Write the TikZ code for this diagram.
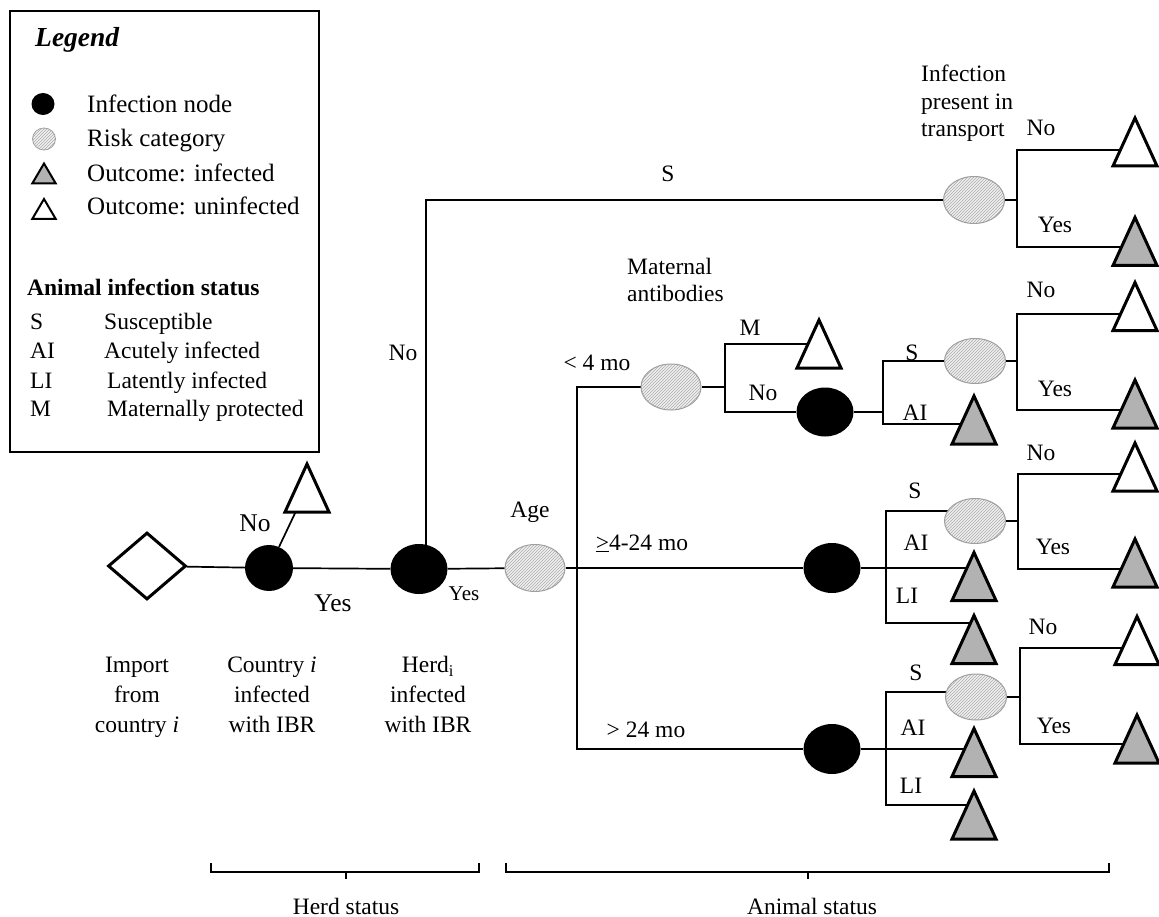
\documentclass[tikz,border=0pt]{standalone}
\usepackage{fontspec}
\setmainfont{Liberation Serif}
\usetikzlibrary{shapes.geometric,patterns}
\pgfdeclarelayer{bg}
\pgfsetlayers{bg,main}
\tikzset{
  conn/.style={line width=1.7pt},
  infn/.style={ellipse, fill=black, inner sep=0pt, minimum width=57pt, minimum height=50pt},
  risk/.style={ellipse, draw=gray!75, line width=1pt, preaction={fill=gray!12}, pattern=north east lines, pattern color=gray!65, minimum width=61pt, minimum height=46pt, inner sep=0pt},
  tri/.style n args={4}{minimum width=#1, minimum height=#2, inner sep=0pt, outer sep=0pt,
    append after command={\pgfextra{\draw[line width=#3, line join=miter, fill=#4] (\tikzlastnode.south west) -- (\tikzlastnode.south east) -- (\tikzlastnode.north) -- cycle;}}},
  triI/.style={tri={44pt}{48pt}{3pt}{black!30}},
  triU/.style={tri={44pt}{48pt}{3pt}{white}},
  triIs/.style={tri={23.5pt}{20pt}{2pt}{black!30}},
  triUs/.style={tri={23.5pt}{20pt}{2pt}{white}},
  lb/.style={inner sep=0pt, anchor=base, font=\fontsize{23.5}{28}\selectfont},
  lbw/.style={lb, anchor=base west},
  multi/.style={inner sep=0pt, font=\fontsize{23.5}{#1}\selectfont},
}
\begin{document}
\begin{tikzpicture}[x=1pt,y=-1pt]
\useasboundingbox (0,0) rectangle (1159,917);

% Legend
\node[draw, line width=1.4pt, minimum width=309pt, minimum height=441pt, inner sep=0pt] (legbox) at (164.5,231.5) {};
\node[lbw, font=\fontsize{27.5}{30}\selectfont] (legtitle) at (35,46.5) {\textbf{\textit{Legend}}};
\node[infn, minimum width=23pt, minimum height=22pt] (lg1) at (43,104) {};
\node[risk, minimum width=23pt, minimum height=22pt, line width=0.8pt] (lg2) at (44,139) {};
\node[triIs] (lg3) at (44,173.5) {};
\node[triUs] (lg4) at (44,209) {};
\node[lbw, font=\fontsize{25}{28}\selectfont] (lt1) at (87,112.5) {Infection node};
\node[lbw, font=\fontsize{25}{28}\selectfont] (lt2) at (87,146.7) {Risk category};
\node[lbw, font=\fontsize{25}{28}\selectfont] (lt3) at (87,181.7) {Outcome: infected};
\node[lbw, font=\fontsize{25}{28}\selectfont] (lt4) at (87,215) {Outcome: uninfected};
\node[lbw] (lst) at (27,295) {\textbf{Animal infection status}};
\node[lbw] (ls1) at (30,330) {S};
\node[lbw] (ls2) at (30,358.3) {AI};
\node[lbw] (ls3) at (30,388.3) {LI};
\node[lbw] (ls4) at (30,416.7) {M};
\node[lbw] (ld1) at (104,330) {Susceptible};
\node[lbw] (ld2) at (104,358.3) {Acutely infected};
\node[lbw] (ld3) at (107,388.3) {Latently infected};
\node[lbw] (ld4) at (107,416.7) {Maternally protected};

% Tree nodes
\node[diamond, draw, line width=3pt, minimum width=78pt, minimum height=67pt, inner sep=0pt] (d) at (147,566) {};
\node[infn, minimum width=48pt, minimum height=46pt] (c1) at (269,568) {};
\node[triU] (t0) at (307,488) {};
\node[infn] (c2) at (419,569) {};
\node[risk, minimum width=60pt, minimum height=47pt] (age) at (535,568) {};
\node[risk, minimum width=60pt] (mat) at (671,387) {};
\node[triU] (tM) at (819,344) {};
\node[infn, minimum height=49pt] (c5) at (825,412) {};
\node[risk, minimum height=45pt] (r2) at (975,361) {};
\node[triI] (t5) at (974,420) {};
\node[risk, minimum height=47pt] (r1) at (974,200) {};
\node[triU] (tU1) at (1135,142) {};
\node[triI] (tI1) at (1135,241.5) {};
\node[triU] (tU2) at (1135,306.5) {};
\node[triI] (tI2) at (1135,404) {};
\node[infn] (c3) at (832,568) {};
\node[risk, minimum height=45pt] (r3) at (975,521) {};
\node[triI] (t3a) at (974,576.5) {};
\node[triI] (t3b) at (974,639.5) {};
\node[triU] (tU3) at (1135,467) {};
\node[triI] (tI3) at (1135,563) {};
\node[infn] (c4) at (832,749) {};
\node[risk] (r4) at (976,697) {};
\node[triI] (t4a) at (974,752.5) {};
\node[triI] (t4b) at (974,815) {};
\node[triU] (tU4) at (1137,640.5) {};
\node[triI] (tI4) at (1137,739) {};

\coordinate (up) at (426,569);
\coordinate (aj) at (577,568);
\coordinate (mj) at (725,387);
\coordinate (j5) at (883,412);
\coordinate (k1) at (1017,200);
\coordinate (k2) at (1017,361);
\coordinate (j3) at (886,568);
\coordinate (k3) at (1018,521);
\coordinate (j4) at (886,749);
\coordinate (k4) at (1020,697);

\begin{pgfonlayer}{bg}
\draw[conn] (d) -- (c1) -- (c2) -- (age);
\draw[conn] (c1) -- (t0);
\draw[conn] (up) |- (r1);
\draw[conn] (age) -- (aj);
\draw[conn] (mat) -| (aj);
\draw[conn] (c3) -- (aj);
\draw[conn] (c4) -| (aj);
% maternal
\draw[conn] (mat) -- (mj);
\draw[conn] (tM.center) -| (mj);
\draw[conn] (c5) -| (mj);
\draw[conn] (c5) -- (j5);
\draw[conn] (r2) -| (j5);
\draw[conn] (t5.center |- 0,424) -| (j5);
% transport top
\draw[conn] (r1) -- (k1);
\draw[conn] (tU1.center |- 0,150) -| (k1);
\draw[conn] (tI1.center |- 0,247) -| (k1);
% r2
\draw[conn] (r2) -- (k2);
\draw[conn] (tU2.center |- 0,314) -| (k2);
\draw[conn] (tI2.center |- 0,410) -| (k2);
% group 3
\draw[conn] (c3) -- (j3);
\draw[conn] (j3) |- (r3.center |- 0,511);
\draw[conn] (j3) -- (t3a.center |- 0,568);
\draw[conn] (j3) |- (t3b.center |- 0,623);
\draw[conn] (r3) -- (k3);
\draw[conn] (tU3.center |- 0,474) -| (k3);
\draw[conn] (tI3.center |- 0,569) -| (k3);
% group 4
\draw[conn] (c4) -- (j4);
\draw[conn] (j4) |- (r4.center |- 0,692);
\draw[conn] (j4) -- (t4a.center |- 0,749);
\draw[conn] (j4) |- (t4b.center |- 0,805);
\draw[conn] (r4) -- (k4);
\draw[conn] (tU4.center |- 0,648) -| (k4);
\draw[conn] (tI4.center |- 0,744) -| (k4);
% brackets
\draw[conn, line width=1.5pt] (211,863) -- (211,872) -- (479,872) -- (479,863);
\draw[conn, line width=1.5pt] (346,872) -- (346,879);
\draw[conn, line width=1.5pt] (506,863) -- (506,872) -- (1109,872) -- (1109,863);
\draw[conn, line width=1.5pt] (808,872) -- (808,879);
\end{pgfonlayer}

% Labels
\node[lb] (lS0) at (668,182) {S};
\node[lb] (lNo0) at (403,360) {No};
\node[lb, font=\fontsize{25.5}{30}\selectfont] (lNo1) at (255,531) {No};
\node[lb, font=\fontsize{25.5}{30}\selectfont] (lYes1) at (333,611) {Yes};
\node[lb, font=\fontsize{21}{25}\selectfont] (lYes2) at (464,600) {Yes};
\node[lb] (lAge) at (530,517) {Age};
\node[multi=27, anchor=north west, align=left] (lMat) at (627,257.5) {Maternal\\antibodies};
\node[lb] (l4) at (597,370) {< 4 mo};
\node[lb] (lM) at (750,335) {M};
\node[lb] (lNoM) at (763,400) {No};
\node[lb] (l424) at (642,550) {\underline{>}4-24 mo};
\node[lb] (l24) at (646,737) {> 24 mo};
\node[multi=27.5, anchor=north west, align=left] (lTr) at (921,65) {Infection\\present in\\transport};
\node[lb] (rNo1) at (1041,136) {No};
\node[lb] (rYes1) at (1055,233) {Yes};
\node[lb] (rNo2) at (1041,298) {No};
\node[lb] (rYes2) at (1055,396) {Yes};
\node[lb] (rNo3) at (1041,460) {No};
\node[lb] (rYes3) at (1053,554) {Yes};
\node[lb] (rNo4) at (1043,634) {No};
\node[lb] (rYes4) at (1054,733) {Yes};
\node[lb] (s5) at (912,360) {S};
\node[lb] (ai5) at (915,420) {AI};
\node[lb] (s3) at (915,498) {S};
\node[lb] (ai3) at (916,550) {AI};
\node[lb] (li3) at (907,603) {LI};
\node[lb] (s4) at (916,680) {S};
\node[lb] (ai4) at (913,735) {AI};
\node[lb] (li4) at (911,793) {LI};
\node[multi=30, anchor=north, align=center] (bImp) at (137,657) {Import\\from\\country \textit{i}};
\node[multi=30, anchor=north, align=center] (bCou) at (272,657) {Country \textit{i}\\infected\\with IBR};
\node[multi=30, anchor=north, align=center] (bHerd) at (428,656) {Herd\textsubscript{i}\\infected\\with IBR};
\node[lb] (hs) at (346,914) {Herd status};
\node[lb] (as) at (812,914) {Animal status};
\end{tikzpicture}
\end{document}
